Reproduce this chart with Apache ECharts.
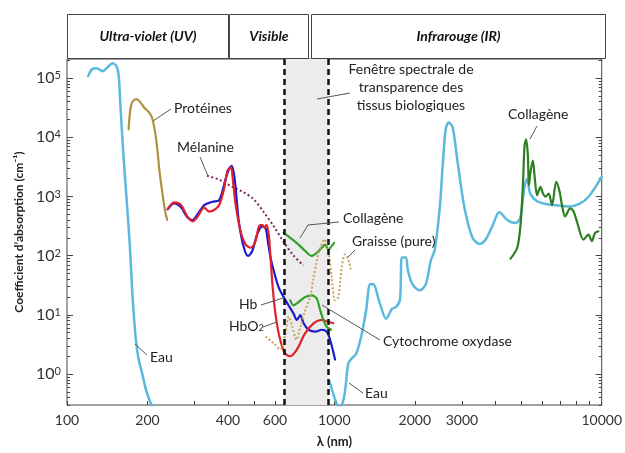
<!DOCTYPE html>
<html>
<head>
<meta charset="utf-8">
<script src="https://cdn.jsdelivr.net/npm/echarts@6/dist/echarts.min.js"></script>
<style>
  html, body { margin: 0; padding: 0; background: #fff; }
  #chart { width: 625px; height: 453px; }
</style>
</head>
<body>
<div id="chart"></div>
<script>
// Absorption spectra of tissue components: [wavelength (nm), absorption coefficient (cm^-1)]
const eauUV = [[120,1.08e5],[124,1.41e5],[129,1.47e5],[136,1.31e5],[142,1.53e5],[148,1.78e5],[153,1.6e5],[156,1.12e5],[158,4.3e4],[162,6300],[167,930],[172,136],[175,29],[178,9.3],[181,3.8],[185,1.85],[192,0.93],[198,0.52],[207,0.30],[214,0.22]];
const eauIR = [[958,0.76],[983,0.52],[1009,0.36],[1044,0.26],[1080,0.36],[1099,0.56],[1127,1.5],[1157,1.8],[1207,2.2],[1260,4.3],[1315,12],[1361,33],[1396,33],[1483,15],[1561,8.6],[1643,12.6],[1701,13.6],[1760,18],[1790,93],[1852,93],[1884,56],[1966,32],[2088,26],[2198,33],[2294,82],[2374,126],[2478,630],[2542,3300],[2609,13600],[2677,17800],[2770,14700],[2891,3800],[3069,630],[3287,200],[3490,158],[3674,185],[3900,316],[4141,540],[4436,400],[4751,355],[4958,430],[5131,1360],[5264,2000],[5401,1120],[5735,830],[6247,740],[6804,710],[7541,680],[8284,760],[8946,1000],[10000,2150]];
const proteines = [[170,13600],[172.5,29300],[176,40300],[182,44200],[187,40300],[195,31300],[203.5,25800],[209,19950],[215.5,9260],[222,2580],[228,1050],[233,556],[237,403]];
const hbo2 = [[238,614],[252,794],[267,716],[282,459],[295,379],[308,459],[326,648],[340,556],[355,591],[371,716],[387,1360],[398,2710],[410,3130],[418,1760],[427.5,716],[446,258],[466,154],[486,136],[507,176],[522,313],[537,332],[548,293],[557,332],[568.5,226],[577,93],[588,29],[602,10.5],[623,4.3],[652,2.26],[684,2.0],[724,2.58],[778,4.9],[836,7.2],[897,8.2],[950,7.6],[991,7.2]];
const hb = [[238,607],[252,764],[267,656],[282,447],[295,398],[308,501],[326,716],[350,816],[371,867],[392.5,2000],[404,2930],[413,3290],[421,2420],[427.5,1360],[440,355],[459,136],[476,99],[493,120],[514,226],[537,313],[553,293],[564,176],[577,93],[593,56],[619,29],[646,20],[674,14.5],[704,10.5],[724,8.2],[746,9.9],[767,7.2],[801,5.6],[848,5.2],[897,5.6],[936,5.2],[964,3.8],[1006,1.76]];
const melanine = [[334,2240],[371,1920],[414,1470],[459,1170],[500,890],[545,540],[593,316],[646,171],[704,100],[767,68]];
const collageneVis = [[646,242],[684,200],[735,154],[778,120],[824,99],[860,112],[897,136],[924,154],[950,127],[977,145],[997,165]];
const cytochrome = [[684,17.6],[704,14.5],[735,16.5],[778,20],[824,21.3],[860,18.7],[885,12],[910,8.2],[936,6.3],[972,5.6]];
const graisse = [[553,4.3],[593,3.3],[628,2.6],[656,4.9],[675,9.3],[694,6.7],[721,3.8],[746,6.3],[778,12],[812,20],[836,43],[860,82],[885,136],[918,187],[950,120],[977,43],[1006,17.6],[1035,20],[1065,63],[1096,105],[1127,87],[1153,59]];
const collageneIR = [[4561,89],[4831,136],[4970,332],[5086,2000],[5144,7160],[5219,9260],[5295,4880],[5341,1540],[5415,2580],[5527,4030],[5622,2000],[5735,1050],[5897,1450],[6035,1120],[6155,990],[6335,1120],[6517,716],[6761,1760],[6962,1200],[7100,716],[7298,459],[7624,631],[7849,556],[8075,379],[8551,187],[8925,226],[9182,176],[9444,242],[9722,258]];

// Spectral window of tissue transparency (nm)
const fenetre = [650, 950];

// Spectral domains shown in the header
const domaines = [
  { name: 'Ultra-violet (UV)', from: 100, to: 400 },
  { name: 'Visible', from: 405, to: 800 },
  { name: 'Infrarouge (IR)', from: 815, to: 10250 }
];

// Axis ticks
const xLabels = [100, 200, 400, 600, 1000, 2000, 3000, 10000];
const xTicks = [100,200,300,400,500,600,700,800,900,1000,2000,3000,4000,5000,6000,7000,8000,9000,10000];
const yDecades = [1, 10, 100, 1000, 10000, 100000];
const yMinor = [];
[0.1, 1, 10, 100, 1000, 10000, 100000].forEach(d => {
  for (let k = 2; k <= 9; k++) yMinor.push(+(k * d).toPrecision(3));
});

const FONT = 'Lato, "Open Sans", sans-serif';
const X_MIN = 100, X_MAX = 10000, Y_MIN = 0.3, Y_MAX = 2.1e5;

const chart = echarts.init(document.getElementById('chart'));

function courbe(name, data, color, width, type) {
  const dotted = Array.isArray(type);
  return {
    name, type: 'line', data, symbol: 'none', showSymbol: false,
    smooth: 0.3, clip: true, silent: true, z: 3,
    lineStyle: { color, width, type: type || 'solid', cap: dotted ? 'butt' : 'round', join: 'round' }
  };
}

const yBase = {
  type: 'log', logBase: 10, min: Y_MIN, max: Y_MAX,
  splitLine: { show: false }, axisLine: { show: false }
};
const tickCol = '#444';

chart.setOption({
  animation: false,
  grid: { left: 67, right: 20, top: 59, bottom: 44, show: true, borderColor: '#444', borderWidth: 1, backgroundColor: 'transparent' },
  xAxis: [{
    type: 'log', logBase: 10, min: X_MIN, max: X_MAX, position: 'bottom',
    axisLine: { show: false }, splitLine: { show: false },
    axisTick: { inside: true, length: 4, customValues: xTicks, lineStyle: { color: tickCol } },
    axisLabel: { customValues: xLabels, fontSize: 14, color: '#333', margin: 8, fontFamily: FONT,
      formatter: v => String(Math.round(v)) },
    name: 'λ (nm)', nameLocation: 'middle', nameGap: 30,
    nameTextStyle: { fontWeight: 'bold', fontSize: 13, color: '#222', fontFamily: FONT }
  }],
  yAxis: [
    {
      ...yBase, position: 'left',
      axisTick: { inside: true, length: 6, customValues: yDecades, lineStyle: { color: tickCol } },
      axisLabel: {
        customValues: yDecades, margin: 6,
        formatter: v => '{b|10}{s|' + Math.round(Math.log10(v)) + '}',
        rich: {
          b: { fontSize: 16, color: '#333', fontFamily: FONT },
          s: { fontSize: 11, color: '#333', fontFamily: FONT, verticalAlign: 'top' }
        }
      },
      name: 'Coefficient d’absorption (cm⁻¹)', nameLocation: 'middle', nameGap: 42,
      nameTextStyle: { fontWeight: 'bold', fontSize: 12, color: '#222', fontFamily: FONT }
    },
    { ...yBase, position: 'left', axisLabel: { show: false },
      axisTick: { inside: true, length: 3, customValues: yMinor, lineStyle: { color: tickCol } } },
    { ...yBase, position: 'right', axisLabel: { show: false },
      axisTick: { inside: true, length: 6, customValues: yDecades, lineStyle: { color: tickCol } } },
    { ...yBase, position: 'right', axisLabel: { show: false },
      axisTick: { inside: true, length: 3, customValues: yMinor, lineStyle: { color: tickCol } } }
  ],
  series: [
    {
      name: 'fenetre', type: 'line', data: [], z: 1, silent: true,
      markArea: { silent: true, itemStyle: { color: '#ececec' },
        data: [[{ xAxis: fenetre[0] }, { xAxis: fenetre[1] }]] }
    },
    courbe('Eau UV', eauUV, '#5ab9dc', 2.5),
    courbe('Eau IR', eauIR, '#5ab9dc', 2.5),
    courbe('Protéines', proteines, '#b0913f', 2.2),
    courbe('Mélanine', melanine, '#7a2a60', 2, [2, 2.5]),
    courbe('Hb', hb, '#1a1ad0', 2.2),
    courbe('HbO2', hbo2, '#e0212b', 2.2),
    courbe('Collagène visible', collageneVis, '#33a02c', 2.2),
    courbe('Cytochrome oxydase', cytochrome, '#33a02c', 2.2),
    courbe('Graisse (pure)', graisse, '#c9a35a', 2, [2, 2]),
    courbe('Collagène IR', collageneIR, '#2c7f1e', 2.2),
    {
      name: 'bornes', type: 'line', data: [], z: 8, silent: true,
      markLine: { silent: true, symbol: ['none', 'none'], label: { show: false },
        lineStyle: { color: '#111', width: 2.5, type: [6, 4] },
        data: [{ xAxis: fenetre[0] }, { xAxis: fenetre[1] }] }
    }
  ]
});

// Header boxes for the spectral domains, placed on the wavelength axis
const px = v => chart.convertToPixel({ xAxisIndex: 0 }, v);
const graphics = [];
domaines.forEach(d => {
  const x0 = Math.round(px(d.from)) + 0.5;
  const x1 = Math.round(px(d.to)) + 0.5;
  graphics.push({ type: 'rect', z: 20, shape: { x: x0, y: 14.5, width: x1 - x0, height: 44 },
    style: { fill: '#fff', stroke: '#444', lineWidth: 1 } });
  graphics.push({ type: 'text', z: 21, x: (x0 + x1) / 2, y: 36,
    style: { text: d.name, fontSize: 14, fontWeight: 'bold', fontStyle: 'italic', fontFamily: FONT,
      fill: '#111', align: 'center', verticalAlign: 'middle' } });
});

// Callout labels
const notes = [
  { text: 'Protéines', x: 174, y: 108, leader: [[153, 121], [171, 109]] },
  { text: 'Mélanine', x: 177, y: 147, leader: [[200, 157], [208, 176]] },
  { text: 'Collagène', x: 343, y: 218, leader: [[300, 238], [308, 225], [339, 222]] },
  { text: 'Graisse (pure)', x: 352, y: 241, leader: [[348, 257], [355, 250]] },
  { text: 'Hb', x: 239, y: 304, leader: [[261, 305], [283, 298]] },
  { rich: '{a|HbO}{b|2}', x: 229, y: 326, leader: [[263, 327], [277, 322]] },
  { text: 'Cytochrome oxydase', x: 383, y: 341, leader: [[322, 305], [380, 340]] },
  { text: 'Eau', x: 150, y: 357, leader: [[135, 344], [147, 355]] },
  { text: 'Eau', x: 365, y: 393, leader: [[349, 383], [363, 393]] },
  { text: 'Collagène', x: 508, y: 114, leader: [[537, 126], [530, 139]] }
];
notes.forEach(n => {
  graphics.push({ type: 'polyline', z: 15, shape: { points: n.leader },
    style: { stroke: '#555', lineWidth: 1, fill: null } });
  if (n.rich) {
    graphics.push({ type: 'text', z: 16, x: n.x, y: n.y,
      style: { text: n.rich, verticalAlign: 'middle', fill: '#222',
        rich: { a: { fontSize: 14, fontFamily: FONT, fill: '#222' },
                b: { fontSize: 9, fontFamily: FONT, fill: '#222', verticalAlign: 'bottom' } } } });
  } else {
    graphics.push({ type: 'text', z: 16, x: n.x, y: n.y,
      style: { text: n.text, fontSize: 14, fontFamily: FONT, fill: '#222', verticalAlign: 'middle' } });
  }
});
graphics.push({ type: 'polyline', z: 15, shape: { points: [[317, 99], [350, 93]] },
  style: { stroke: '#555', lineWidth: 1, fill: null } });
graphics.push({ type: 'text', z: 16, x: 411, y: 60,
  style: { text: 'Fenêtre spectrale de\ntransparence des\ntissus biologiques', fontSize: 14, lineHeight: 18,
    fontFamily: FONT, fill: '#222', align: 'center', verticalAlign: 'top' } });

chart.setOption({ graphic: graphics });
</script>
</body>
</html>
